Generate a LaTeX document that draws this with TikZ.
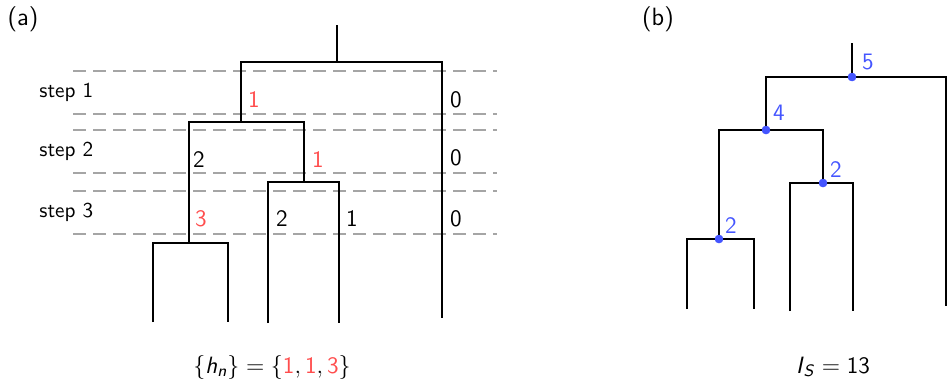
\documentclass[tikz,border=0pt]{standalone}
\usepackage{amsmath}
\renewcommand{\familydefault}{\sfdefault}
\definecolor{hred}{RGB}{255,77,77}
\definecolor{hblue}{RGB}{68,85,255}
\definecolor{guide}{RGB}{165,165,165}
\newcommand{\sfit}[1]{\textsf{\textit{#1}}}
\begin{document}
\begin{tikzpicture}[x=0.5pt,y=-0.5pt,
  treeA/.style={line width=1pt,black},
  treeB/.style={line width=1.35pt,black},
  level/.style={guide,line width=0.75pt,dash pattern=on 6.5pt off 3.5pt},
  lbl/.style={font=\fontsize{11.8}{14}\selectfont,inner sep=0pt},
  steplbl/.style={font=\fontsize{10.6}{13}\selectfont,inner sep=0pt,anchor=west},
  dot/.style={circle,fill=hblue,inner sep=0pt,minimum size=4.2pt}]
\useasboundingbox (0,0) rectangle (947,388);

% ---------- (a) step counting ----------
\node[lbl,font=\fontsize{12.5}{15}\selectfont] (pa) at (23,19) {(a)};

% level boundaries
\foreach \y/\n in {71/l1,114/l2,130/l3,173/l4,191/l5,234/l6}{
  \coordinate (\n w) at (73,\y);
  \coordinate (\n e) at (497,\y);
  \draw[level] (\n w) -- (\n e);
}
\node[steplbl] (s1) at (39,92) {step 1};
\node[steplbl] (s2) at (39,151) {step 2};
\node[steplbl] (s3) at (39,212) {step 3};

% tree nodes
\coordinate (aroot) at (337,25);
\coordinate (aj1) at (337,62);
\coordinate (aj2) at (241,122);
\coordinate (aj3) at (304,182);
\coordinate (aj4) at (189,243);
\coordinate (aR) at (442,318);
\coordinate (aL1) at (153,322);
\coordinate (aL2) at (228,322);
\coordinate (aL3) at (268,323);
\coordinate (aL4) at (339,323);

\draw[treeA] (aroot) -- (aj1);
\draw[treeA] (aj2) |- (aj1) -| (aR);
\draw[treeA] (aj4) |- (aj2) -| (aj3);
\draw[treeA] (aL3) |- (aj3) -| (aL4);
\draw[treeA] (aL1) |- (aj4) -| (aL2);

% branch counts
\node[lbl,text=hred] (c11) at (254,100) {1};
\node[lbl] (c12) at (456,100) {0};
\node[lbl] (c21) at (199,160) {2};
\node[lbl,text=hred] (c22) at (318,160) {1};
\node[lbl] (c23) at (456,158) {0};
\node[lbl,text=hred] (c31) at (201,219) {3};
\node[lbl] (c32) at (282,219) {2};
\node[lbl] (c33) at (352,219) {1};
\node[lbl] (c34) at (456,219) {0};

\node[lbl] (fa) at (272,367)
  {$\{\sfit{h}_{\sfit{n}}\} = \{\textcolor{hred}{\textsf{1}},\textcolor{hred}{\textsf{1}},\textcolor{hred}{\textsf{3}}\}$};

% ---------- (b) Sackin index ----------
\node[lbl,font=\fontsize{12.5}{15}\selectfont] (pb) at (658,19) {(b)};

\coordinate (broot) at (852,43);
\coordinate (bR) at (946,306);
\coordinate (bL1) at (687,309);
\coordinate (bL2) at (754,309);
\coordinate (bL3) at (790,311);
\coordinate (bL4) at (853,311);

\node[dot] (b1) at (852,77) {};
\node[dot] (b2) at (766,130) {};
\node[dot] (b3) at (823,183) {};
\node[dot] (b4) at (719,239) {};

\draw[treeB] (broot) -- (b1.center);
\draw[treeB] (b2.center) |- (b1.center) -| (bR);
\draw[treeB] (b4.center) |- (b2.center) -| (b3.center);
\draw[treeB] (bL3) |- (b3.center) -| (bL4);
\draw[treeB] (bL1) |- (b4.center) -| (bL2);
\foreach \n in {b1,b2,b3,b4}{\node[dot] at (\n) {};}

\node[lbl,text=hblue] (k1) at (868,62) {5};
\node[lbl,text=hblue] (k2) at (779,113) {4};
\node[lbl,text=hblue] (k3) at (836,170) {2};
\node[lbl,text=hblue] (k4) at (731,226) {2};

\node[lbl] (fb) at (833,367) {$\sfit{I}_{\sfit{S}} = \textsf{13}$};
\end{tikzpicture}
\end{document}
